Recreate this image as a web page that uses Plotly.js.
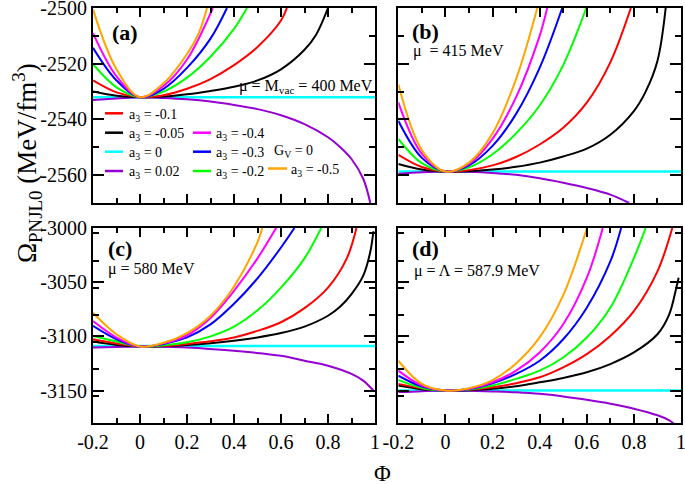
<!DOCTYPE html>
<html>
<head>
<meta charset="utf-8">
<script src="https://cdn.plot.ly/plotly-3.0.1.min.js"></script>
<style>html,body{margin:0;padding:0;background:#fff;}#plot{width:685px;height:485px;}</style>
</head>
<body>
<div id="plot"></div>
<script>
// ---------------- DATA ----------------
// Panel (a): mu = M_vac = 400 MeV
const phiA_orange = [-0.2,-0.1,0,0.1,0.2,0.25,0.285];
const omA_orange  = [-2500.5,-2522,-2532,-2527,-2516.5,-2509,-2500];
const phiA_magenta = [-0.2,-0.1,0,0.1,0.2,0.31];
const omA_magenta  = [-2509,-2524.5,-2532,-2528,-2518.5,-2500];
const phiA_blue = [-0.2,-0.1,0,0.1,0.2,0.3,0.37];
const omA_blue  = [-2514.3,-2526,-2532,-2529,-2521.5,-2511,-2500];
const phiA_green = [-0.2,-0.1,0,0.1,0.2,0.3,0.4,0.455];
const omA_green  = [-2520.2,-2528.5,-2532,-2530,-2525,-2517.5,-2507.5,-2500];
const phiA_red = [-0.2,-0.1,0,0.1,0.2,0.3,0.4,0.5,0.6,0.625];
const omA_red  = [-2526,-2530.3,-2532,-2531.3,-2529,-2525.5,-2520.5,-2514,-2504.5,-2500];
const phiA_black = [-0.2,-0.1,0,0.1,0.2,0.3,0.4,0.5,0.6,0.7,0.75,0.8];
const omA_black  = [-2530,-2531.5,-2532,-2531.8,-2531,-2529.8,-2528.3,-2526,-2522,-2515,-2509.5,-2500];
const phiA_cyan = [-0.2,0.4,1.0];
const omA_cyan  = [-2532,-2532,-2532];
const phiA_purple = [-0.2,-0.1,0,0.1,0.2,0.3,0.4,0.5,0.6,0.7,0.8,0.85,0.9,0.95,0.98];
const omA_purple  = [-2533,-2532.5,-2532,-2532.3,-2532.8,-2533.6,-2534.8,-2536.3,-2538.5,-2541.7,-2546.4,-2549.8,-2554.2,-2561.3,-2570];

// Panel (b): mu = 415 MeV
const phiB_orange = [-0.2,-0.1,0,0.1,0.2,0.3,0.39];
const omB_orange  = [-2527.4,-2551,-2558.7,-2555.5,-2545,-2525.5,-2500];
const phiB_magenta = [-0.2,-0.1,0,0.1,0.2,0.3,0.4,0.432];
const omB_magenta  = [-2533.9,-2552.4,-2558.7,-2556,-2547,-2532,-2510,-2500];
const phiB_blue = [-0.2,-0.1,0,0.1,0.2,0.3,0.4,0.496];
const omB_blue  = [-2540.5,-2553.8,-2558.7,-2556.5,-2549.5,-2538,-2521.5,-2500];
const phiB_green = [-0.2,-0.1,0,0.1,0.2,0.3,0.4,0.5,0.598];
const omB_green  = [-2547,-2555.7,-2558.7,-2557.2,-2552.5,-2545,-2535,-2520.5,-2500];
const phiB_red = [-0.2,-0.1,0,0.1,0.2,0.3,0.4,0.5,0.6,0.7,0.787];
const omB_red  = [-2552.7,-2557.1,-2558.7,-2558.2,-2556.5,-2553.5,-2549,-2543,-2534,-2519.5,-2500];
const phiB_black = [-0.2,-0.1,0,0.1,0.2,0.3,0.4,0.5,0.6,0.7,0.8,0.85,0.9,0.935];
const omB_black  = [-2556,-2558,-2558.7,-2558.6,-2558,-2557,-2555.5,-2553.3,-2550.5,-2545.5,-2537,-2530,-2519,-2500];
const phiB_cyan = [-0.2,0.4,1.0];
const omB_cyan  = [-2558.7,-2558.7,-2558.7];
const phiB_purple = [-0.2,-0.1,0,0.1,0.2,0.3,0.4,0.5,0.6,0.7,0.78];
const omB_purple  = [-2559.5,-2559,-2558.7,-2558.8,-2559.2,-2559.9,-2561.1,-2562.7,-2564.6,-2567,-2570];

// Panel (c): mu = 580 MeV
const phiC_orange = [-0.2,-0.1,0,0.1,0.2,0.3,0.4,0.5,0.52];
const omC_orange  = [-3078.2,-3098.1,-3109.4,-3106,-3097,-3081,-3054,-3013,-3000];
const phiC_magenta = [-0.2,-0.1,0,0.1,0.2,0.3,0.4,0.5,0.579];
const omC_magenta  = [-3085.9,-3101.1,-3109.4,-3106.5,-3099,-3083,-3058,-3028,-3000];
const phiC_blue = [-0.2,-0.1,0,0.1,0.2,0.3,0.4,0.5,0.6,0.657];
const omC_blue  = [-3090.4,-3102.7,-3109.4,-3107,-3101,-3089,-3070,-3046.5,-3018,-3000];
const phiC_green = [-0.2,-0.1,0,0.1,0.2,0.3,0.4,0.5,0.6,0.7,0.771];
const omC_green  = [-3099.6,-3104.8,-3109.4,-3108.3,-3105.5,-3100,-3091,-3076,-3055,-3028,-3000];
const phiC_red = [-0.2,-0.1,0,0.1,0.2,0.3,0.4,0.5,0.6,0.7,0.8,0.88,0.921];
const omC_red  = [-3102.7,-3106.6,-3109.4,-3108.8,-3107,-3104.5,-3101,-3095,-3087,-3074,-3055,-3028,-3000];
const phiC_black = [-0.2,-0.1,0,0.1,0.2,0.3,0.4,0.5,0.6,0.7,0.8,0.85,0.9,0.95,0.98,0.993];
const omC_black  = [-3104.8,-3107.9,-3109.4,-3109.2,-3108,-3106.3,-3104,-3101,-3097,-3091,-3081,-3073,-3061,-3044,-3022,-3003];
const phiC_cyan = [-0.2,0.4,1.0];
const omC_cyan  = [-3109,-3109,-3109];
const phiC_purple = [-0.2,-0.1,0,0.1,0.2,0.4,0.6,0.7,0.8,0.9,0.95,0.98,0.993];
const omC_purple  = [-3110.3,-3109.8,-3109.4,-3109.6,-3110.3,-3113.4,-3117.9,-3122.5,-3127.1,-3134.7,-3140.9,-3147,-3150];

// Panel (d): mu = Lambda = 587.9 MeV
const phiD_orange = [-0.2,-0.1,0,0.1,0.2,0.3,0.4,0.5,0.601];
const omD_orange  = [-3122.5,-3143.9,-3150,-3148,-3140.5,-3125,-3101,-3062,-3000];
const phiD_magenta = [-0.2,-0.1,0,0.1,0.2,0.3,0.4,0.5,0.6,0.668];
const omD_magenta  = [-3131.7,-3145.4,-3150,-3148.3,-3142.4,-3131.7,-3114.9,-3088.9,-3046.1,-3000];
const phiD_blue = [-0.2,-0.1,0,0.1,0.2,0.3,0.4,0.5,0.6,0.7,0.746];
const omD_blue  = [-3136.3,-3146.3,-3150,-3148.6,-3143.3,-3134.7,-3122.5,-3102.7,-3073.6,-3030.9,-3000];
const phiD_green = [-0.2,-0.1,0,0.1,0.2,0.3,0.4,0.5,0.6,0.7,0.8,0.85];
const omD_green  = [-3140.2,-3147.6,-3150,-3149,-3145.4,-3139.3,-3131.7,-3119.5,-3101.1,-3073.6,-3027.8,-3000];
const phiD_red = [-0.2,-0.1,0,0.1,0.2,0.3,0.4,0.5,0.6,0.7,0.8,0.9,0.963];
const omD_red  = [-3143.9,-3147.9,-3150,-3149.3,-3147,-3143.3,-3137.8,-3128.6,-3116.4,-3099.6,-3076.7,-3040,-3000];
const phiD_black = [-0.2,-0.1,0,0.1,0.2,0.3,0.4,0.5,0.6,0.7,0.8,0.9,0.95,0.98,0.99];
const omD_black  = [-3145.4,-3148.8,-3150,-3149.7,-3148.5,-3146,-3142.4,-3138.4,-3133.2,-3125.6,-3114.9,-3098.1,-3079.7,-3055.3,-3046];
const phiD_cyan = [-0.2,0.4,1.0];
const omD_cyan  = [-3150,-3150,-3150];
const phiD_purple = [-0.2,-0.1,0,0.1,0.2,0.3,0.4,0.5,0.6,0.7,0.8,0.9,0.95,0.97];
const omD_purple  = [-3151.5,-3150.6,-3150,-3150.3,-3150.9,-3151.7,-3153.1,-3155.5,-3158.6,-3162.2,-3166.8,-3172.9,-3177.5,-3180.6];

// Tick labels
const xTickVals = [-0.2,0,0.2,0.4,0.6,0.8,1];
const xTickText = ["-0.2","0","0.2","0.4","0.6","0.8","1"];
const yTopVals = [-2560,-2540,-2520,-2500];
const yTopText = ["-2560","-2540","-2520","-2500"];
const yBotVals = [-3150,-3100,-3050,-3000];
const yBotText = ["-3150","-3100","-3050","-3000"];

// Legend entries
const legendLabels = ["a<sub>3</sub> = -0.1","a<sub>3</sub> = -0.05","a<sub>3</sub> = 0","a<sub>3</sub> = 0.02",
                      "a<sub>3</sub> = -0.4","a<sub>3</sub> = -0.3","a<sub>3</sub> = -0.2","a<sub>3</sub> = -0.5"];

// ---------------- STYLE ----------------
const COL = {orange:'#ffa500', magenta:'#ff00ff', blue:'#0000ff', green:'#00ff00',
             red:'#ff0000', black:'#000000', cyan:'#00ffff', purple:'#9400d3'};
const FONT = 'Liberation Serif, Times New Roman, serif';
const W=685, H=485, ML=93, MT=8, MR=4, MB=62;
const PW=W-ML-MR, PH=H-MT-MB;
const px = xr => (xr-ML)/PW;
const py = yr => (H-MB-yr)/PH;

const panels = [
  {xa:'x',  ya:'y',  d:{orange:[phiA_orange,omA_orange],magenta:[phiA_magenta,omA_magenta],blue:[phiA_blue,omA_blue],green:[phiA_green,omA_green],red:[phiA_red,omA_red],black:[phiA_black,omA_black],cyan:[phiA_cyan,omA_cyan],purple:[phiA_purple,omA_purple]}},
  {xa:'x2', ya:'y2', d:{orange:[phiB_orange,omB_orange],magenta:[phiB_magenta,omB_magenta],blue:[phiB_blue,omB_blue],green:[phiB_green,omB_green],red:[phiB_red,omB_red],black:[phiB_black,omB_black],cyan:[phiB_cyan,omB_cyan],purple:[phiB_purple,omB_purple]}},
  {xa:'x3', ya:'y3', d:{orange:[phiC_orange,omC_orange],magenta:[phiC_magenta,omC_magenta],blue:[phiC_blue,omC_blue],green:[phiC_green,omC_green],red:[phiC_red,omC_red],black:[phiC_black,omC_black],cyan:[phiC_cyan,omC_cyan],purple:[phiC_purple,omC_purple]}},
  {xa:'x4', ya:'y4', d:{orange:[phiD_orange,omD_orange],magenta:[phiD_magenta,omD_magenta],blue:[phiD_blue,omD_blue],green:[phiD_green,omD_green],red:[phiD_red,omD_red],black:[phiD_black,omD_black],cyan:[phiD_cyan,omD_cyan],purple:[phiD_purple,omD_purple]}}
];
const drawOrder = ['cyan','purple','black','red','green','blue','magenta','orange'];

const traces = [];
panels.forEach(p => {
  drawOrder.forEach(c => {
    traces.push({
      x: p.d[c][0], y: p.d[c][1], xaxis: p.xa, yaxis: p.ya,
      type: 'scatter', mode: 'lines',
      line: {color: COL[c], width: c==='cyan'?2.5:2, shape: 'spline', smoothing: 1},
      showlegend: false, hoverinfo: 'skip'
    });
  });
});

function xAxis(domain, anchor, labels){
  return {domain: domain, anchor: anchor, range: [-0.2, 1], tickmode: 'array',
    tickvals: xTickVals, ticktext: xTickText, showticklabels: labels,
    ticks: 'inside', ticklen: 9, tickwidth: 2, tickcolor: '#000', ticklabeloverflow: 'allow',
    minor: {tickmode: 'linear', tick0: -0.2, dtick: 0.1, ticks: 'inside', ticklen: 5, tickwidth: 2, tickcolor: '#000'},
    showline: true, linewidth: 2, linecolor: '#000', mirror: 'allticks',
    showgrid: false, zeroline: false,
    tickfont: {family: FONT, size: 20, color: '#000'}};
}
function yAxis(domain, anchor, range, vals, text, minorD, labels){
  return {domain: domain, anchor: anchor, range: range, tickmode: 'array',
    tickvals: vals, ticktext: text, showticklabels: labels,
    ticks: 'inside', ticklen: 11, tickwidth: 2, tickcolor: '#000', ticklabeloverflow: 'allow',
    minor: {tickmode: 'linear', tick0: range[0], dtick: minorD, ticks: 'inside', ticklen: 6, tickwidth: 2, tickcolor: '#000'},
    showline: true, linewidth: 2, linecolor: '#000', mirror: 'allticks',
    showgrid: false, zeroline: false,
    tickfont: {family: FONT, size: 20, color: '#000'}};
}

const dxL = [0, px(375)], dxR = [px(398.3), 1];
const dyT = [py(203), 1], dyB = [0, py(228)];
const rTop = [-2570, -2500], rBot = [-3180, -3000];

const ann = [];
function A(text, xr, yr, size, opts){
  ann.push(Object.assign({text: text, x: px(xr), y: py(yr), xref: 'paper', yref: 'paper',
    xanchor: 'center', yanchor: 'middle', showarrow: false,
    font: {family: FONT, size: size, color: '#000'}}, opts||{}));
}
A('<b>(a)</b>', 125, 33, 22);
A('<b>(b)</b>', 425, 31, 22);
A('<b>(c)</b>', 120, 249, 22);
A('<b>(d)</b>', 425, 249, 22);
A('μ = M<sub>vac</sub> = 400 MeV', 237, 86, 16, {xanchor: 'left'});
A('μ  = 415 MeV', 411, 51, 16, {xanchor: 'left'});
A('μ = 580 MeV', 106, 269, 16, {xanchor: 'left'});
A('μ = Λ = 587.9 MeV', 412, 271, 16, {xanchor: 'left'});
A('G<sub>V</sub> = 0', 272, 151, 14, {xanchor: 'left'});
A('Ω<sub>PNJL0</sub> (MeV/fm<sup>3</sup>)', 27, 163, 27, {textangle: -90});
A('Φ', 382, 473, 23);

// legend
const legRows = [113.3, 132.7, 151.7, 171];
const legCols = ['red','black','cyan','purple','magenta','blue','green','orange'];
const legPos = [[105,123,127,legRows[0]],[105,123,127,legRows[1]],[105,123,127,legRows[2]],[105,123,127,legRows[3]],
                [193,211,214,legRows[1]],[193,211,214,legRows[2]],[193,211,214,legRows[3]],[268,287,289,168.5]];
const shapes = [];
legPos.forEach((p, i) => {
  shapes.push({type: 'line', xref: 'paper', yref: 'paper', x0: px(p[0]), x1: px(p[1]), y0: py(p[3]), y1: py(p[3]),
    line: {color: COL[legCols[i]], width: 2.5}});
  A(legendLabels[i], p[2], p[3]+2, 14, {xanchor: 'left'});
});

const layout = {
  width: W, height: H, margin: {l: ML, r: MR, t: MT, b: MB},
  paper_bgcolor: '#fff', plot_bgcolor: '#fff', showlegend: false,
  font: {family: FONT, color: '#000'},
  xaxis: xAxis(dxL, 'y', false),
  yaxis: yAxis(dyT, 'x', rTop, yTopVals, yTopText, 10, true),
  xaxis2: xAxis(dxR, 'y2', false),
  yaxis2: yAxis(dyT, 'x2', rTop, yTopVals, yTopText, 10, false),
  xaxis3: xAxis(dxL, 'y3', true),
  yaxis3: yAxis(dyB, 'x3', rBot, yBotVals, yBotText, 25, true),
  xaxis4: xAxis(dxR, 'y4', true),
  yaxis4: yAxis(dyB, 'x4', rBot, yBotVals, yBotText, 25, false),
  annotations: ann, shapes: shapes
};
Plotly.newPlot('plot', traces, layout, {displayModeBar: false, staticPlot: true});
</script>
</body>
</html>
